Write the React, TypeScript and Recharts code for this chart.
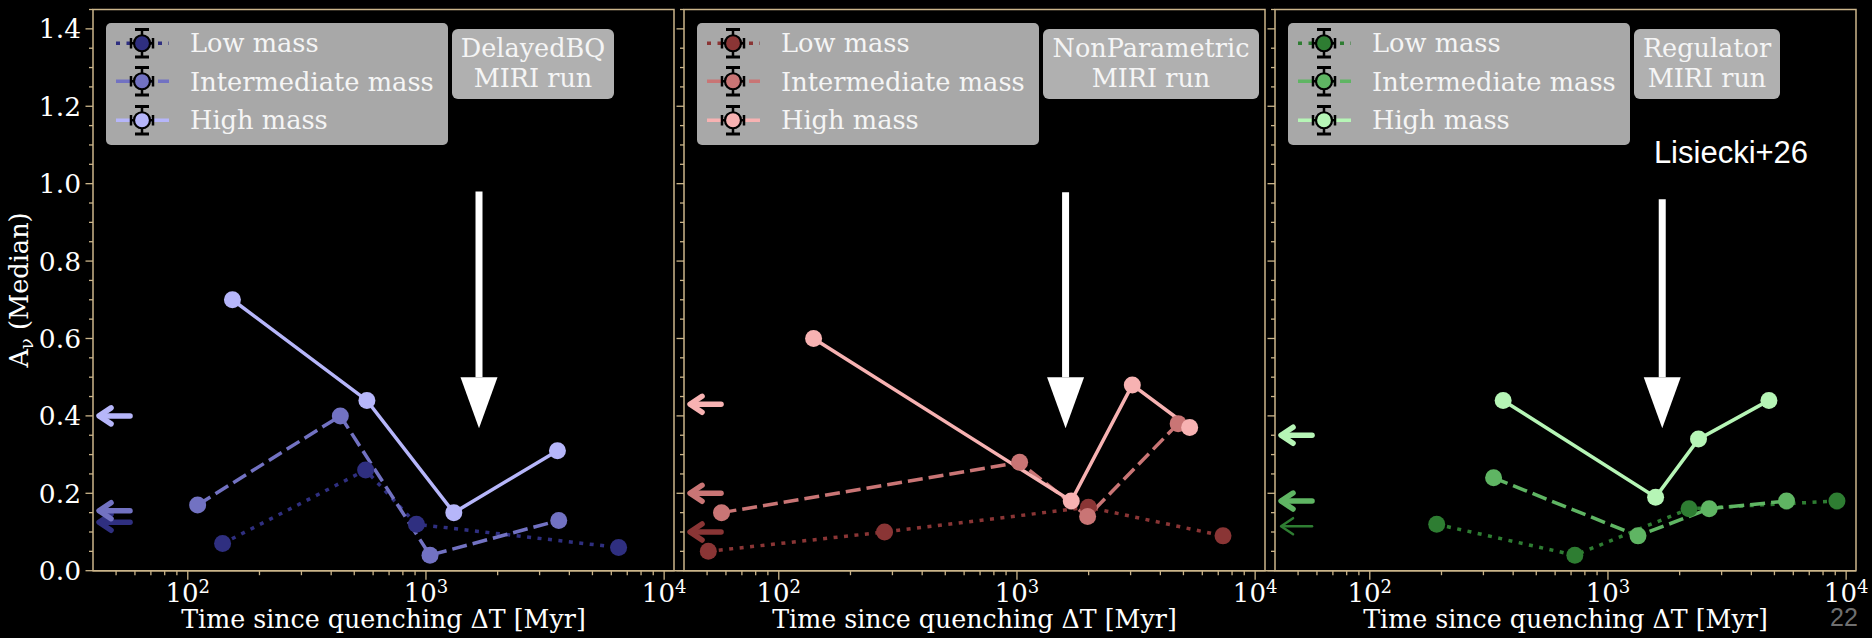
import React from 'react'
import { ComposedChart, Line, XAxis, YAxis, ReferenceArea, ReferenceLine, ReferenceDot } from 'recharts'

// [time since quenching (Myr), median Av]
type Pt = [number, number]

const MASS_LABELS = ['Low mass', 'Intermediate mass', 'High mass']

const BQ_LOW: Pt[] = [[140, 0.07], [558, 0.26], [912, 0.12], [6440, 0.06]]
const BQ_MID: Pt[] = [[110, 0.17], [437, 0.4], [1040, 0.04], [3610, 0.13]]
const BQ_HIGH: Pt[] = [[154, 0.7], [565, 0.44], [1309, 0.15], [3565, 0.31]]
const BQ_REF = [0.125, 0.155, 0.4]

const NP_LOW: Pt[] = [[50.6, 0.05], [278, 0.1], [1995, 0.164], [7330, 0.09]]
const NP_MID: Pt[] = [[57.5, 0.15], [1026, 0.28], [1980, 0.14], [4750, 0.38]]
const NP_HIGH: Pt[] = [[140, 0.6], [1690, 0.18], [3050, 0.48], [5310, 0.37]]
const NP_REF = [0.1, 0.2, 0.43]

const REG_LOW: Pt[] = [[191, 0.12], [726, 0.04], [2190, 0.16], [9150, 0.18]]
const REG_MID: Pt[] = [[331, 0.24], [1337, 0.09], [2660, 0.16], [5620, 0.18]]
const REG_HIGH: Pt[] = [[363, 0.44], [1585, 0.19], [2400, 0.34], [4740, 0.44]]
const REG_REF = [0.115, 0.18, 0.35]

const DECADES = [100, 1000, 10000]
const X_DOMAIN: [number, number] = [40, 11000]
const Y_DOMAIN: [number, number] = [0, 1.45]

const X_TICKS: number[] = []
for (const d of [10, 100, 1000]) {
  for (let m = d === 10 ? 5 : 2; m <= 10; m++) X_TICKS.push(m * d)
}
const Y_TICKS: number[] = []
for (let i = 0; i <= 29; i++) Y_TICKS.push(Math.round(i * 5) / 100)

const SERIF = '"DejaVu Serif", serif'
const SANS = '"Liberation Sans", Arial, sans-serif'
const SPINE = '#cbb58a'
const DASHES = ['4 6.5', '15 6', undefined]

interface PanelCfg {
  left: number
  series: Pt[][]
  ref: number[]
  colors: string[]
  run: string
  boxW: number
  arrowT: number
  arrowTop: number
  yLabels: boolean
  thinLow?: boolean
}

const PANELS: PanelCfg[] = [
  { left: 93, series: [BQ_LOW, BQ_MID, BQ_HIGH], ref: BQ_REF, colors: ['#2f2f80', '#7272c2', '#b6b6fa'], run: 'DelayedBQ', boxW: 162, arrowT: 1670, arrowTop: 0.98, yLabels: true },
  { left: 684, series: [NP_LOW, NP_MID, NP_HIGH], ref: NP_REF, colors: ['#8a3535', '#c97575', '#f7b2b2'], run: 'NonParametric', boxW: 216, arrowT: 1600, arrowTop: 0.978, yLabels: false },
  { left: 1275, series: [REG_LOW, REG_MID, REG_HIGH], ref: REG_REF, colors: ['#2e7d32', '#5fb563', '#b6f5b6'], run: 'Regulator', boxW: 146, arrowT: 1690, arrowTop: 0.96, yLabels: false, thinLow: true },
]

const toRows = (pts: Pt[]) => pts.map(([x, y]) => ({ x, y }))

function XTick(props: any) {
  const { x, y, payload } = props
  const v = payload.value as number
  const exp = Math.round(Math.log10(v))
  const major = Math.abs(Math.log10(v) - exp) < 1e-6
  return (
    <g>
      <line x1={x} x2={x} y1={y} y2={y + (major ? 9 : 4.5)} stroke={SPINE} strokeWidth={1.3} />
      {major && DECADES.includes(v) && (
        <text x={x} y={y + 31.5} textAnchor="middle" fill="#fff" fontSize={26} fontFamily={SERIF}>
          10<tspan dy={-9} fontSize={18}>{exp}</tspan>
        </text>
      )}
    </g>
  )
}

function YTick(props: any) {
  const { x, y, payload, labels } = props
  const v = payload.value as number
  const major = Math.round(v * 100) % 20 === 0
  return (
    <g>
      <line x1={x} x2={x - (major ? 7.5 : 4)} y1={y} y2={y} stroke={SPINE} strokeWidth={1.3} />
      {major && labels && (
        <text x={x - 12} y={y} textAnchor="end" dominantBaseline="central" fill="#fff" fontSize={26.5} fontFamily={SERIF}>
          {v.toFixed(1)}
        </text>
      )}
    </g>
  )
}

function SmallArrow({ cx, cy, color, thin }: { cx: number; cy: number; color: string; thin?: boolean }) {
  const w = thin ? 2.5 : 5.5
  return (
    <g stroke={color} strokeWidth={w} fill="none" strokeLinecap="round" strokeLinejoin="round">
      <line x1={cx + 2} y1={cy} x2={cx + 32} y2={cy} />
      <polyline points={`${cx + 13},${cy - 8} ${cx + 1},${cy} ${cx + 13},${cy + 8}`} />
    </g>
  )
}

function ArrowHead({ cx, cy }: { cx: number; cy: number }) {
  return <polygon points={`${cx - 18.5},${cy - 51} ${cx + 18.5},${cy - 51} ${cx},${cy}`} fill="#fff" />
}

function Panel({ p }: { p: PanelCfg }) {
  return (
    <div style={{ position: 'absolute', left: p.left - 93, top: 0 }}>
      <ComposedChart width={698} height={638} margin={{ top: 9.5, right: 24, left: 33, bottom: 27 }}>
        <XAxis
          dataKey="x"
          type="number"
          scale="log"
          domain={X_DOMAIN}
          allowDataOverflow
          ticks={X_TICKS}
          interval={0}
          tick={(t: any) => <XTick {...t} />}
          tickLine={false}
          axisLine={false}
          tickSize={0}
          tickMargin={0}
          height={40.3}
        />
        <YAxis
          type="number"
          domain={Y_DOMAIN}
          allowDataOverflow
          ticks={Y_TICKS}
          interval={0}
          tick={(t: any) => <YTick {...t} labels={p.yLabels} />}
          tickLine={false}
          axisLine={false}
          tickSize={0}
          tickMargin={0}
          width={60}
        />
        <ReferenceArea x1={X_DOMAIN[0]} x2={X_DOMAIN[1]} y1={Y_DOMAIN[0]} y2={Y_DOMAIN[1]} fill="none" stroke={SPINE} strokeWidth={1.5} ifOverflow="visible" />
        {p.series.map((s, i) => (
          <Line
            key={i}
            data={toRows(s)}
            dataKey="y"
            type="linear"
            stroke={p.colors[i]}
            strokeWidth={3.5}
            strokeDasharray={DASHES[i]}
            dot={{ r: 8.5, fill: p.colors[i], stroke: 'none' }}
            isAnimationActive={false}
          />
        ))}
        <ReferenceLine segment={[{ x: p.arrowT, y: p.arrowTop }, { x: p.arrowT, y: 0.5 }]} stroke="#fff" strokeWidth={7} ifOverflow="visible" />
        <ReferenceDot x={p.arrowT} y={0.368} r={1} ifOverflow="visible" shape={(d: any) => <ArrowHead cx={d.cx} cy={d.cy} />} />
        {p.ref.map((v, i) => (
          <ReferenceDot
            key={'r' + i}
            x={42}
            y={v}
            r={1}
            ifOverflow="visible"
            shape={(d: any) => <SmallArrow cx={d.cx} cy={d.cy} color={p.colors[i]} thin={p.thinLow && i === 0} />}
          />
        ))}
      </ComposedChart>
    </div>
  )
}

function LegendMarker({ color, dash }: { color: string; dash?: string }) {
  return (
    <svg width={72} height={38.5} style={{ display: 'block' }}>
      <line x1={10} x2={63} y1={19.25} y2={19.25} stroke={color} strokeWidth={3.5} strokeDasharray={dash} />
      <g stroke="#000" strokeWidth={2.5}>
        <line x1={36} x2={36} y1={5} y2={33.5} />
        <line x1={29} x2={43} y1={5.5} y2={5.5} strokeWidth={3} />
        <line x1={29} x2={43} y1={33} y2={33} strokeWidth={3} />
        <line x1={24} x2={48} y1={19.25} y2={19.25} />
        <line x1={25} x2={25} y1={14} y2={24.5} />
        <line x1={47} x2={47} y1={14} y2={24.5} />
      </g>
      <circle cx={36} cy={19.25} r={8} fill={color} stroke="#000" strokeWidth={2.2} />
    </svg>
  )
}

function Overlay({ p }: { p: PanelCfg }) {
  const legLeft = p.left + 13
  return (
    <>
      <div
        style={{
          position: 'absolute', left: legLeft, top: 23, width: 342, height: 122, background: 'rgb(168,168,168)',
          borderRadius: 5, boxSizing: 'border-box', paddingTop: 0.75,
        }}
      >
        {MASS_LABELS.map((lab, i) => (
          <div key={lab} style={{ display: 'flex', alignItems: 'center', height: 38.5 }}>
            <LegendMarker color={p.colors[i]} dash={DASHES[i]} />
            <span style={{ marginLeft: 12, fontFamily: SERIF, fontSize: 25.7, color: '#f5f5f5', whiteSpace: 'nowrap' }}>{lab}</span>
          </div>
        ))}
      </div>
      <div
        style={{
          position: 'absolute', left: legLeft + 346, top: 29, width: p.boxW, height: 70, background: 'rgb(176,176,176)',
          borderRadius: 6, boxSizing: 'border-box', paddingTop: 4, textAlign: 'center', fontFamily: SERIF,
          fontSize: 25.5, lineHeight: '30px', color: '#f5f5f5', whiteSpace: 'nowrap',
        }}
      >
        <div>{p.run}</div>
        <div>MIRI run</div>
      </div>
    </>
  )
}

export default function App() {
  return (
    <div style={{ position: 'absolute', left: 0, top: 0, width: 1872, height: 638, background: '#000', overflow: 'hidden' }}>
      {PANELS.map((p) => (
        <Panel key={p.run} p={p} />
      ))}
      {PANELS.map((p) => (
        <Overlay key={p.run} p={p} />
      ))}
      <svg width={1872} height={638} style={{ position: 'absolute', left: 0, top: 0, pointerEvents: 'none' }}>
        <line x1={93} x2={1856} y1={570.7} y2={570.7} stroke={SPINE} strokeWidth={1.5} />
        <text transform="translate(28,290) rotate(-90)" textAnchor="middle" fill="#fff" fontSize={25.6} fontFamily={SERIF}>
          A<tspan dy={5} fontSize={18}>ν</tspan>
          <tspan dy={-5}> (Median)</tspan>
        </text>
        {PANELS.map((p) => (
          <text key={p.run} x={p.left + 290.5} y={628} textAnchor="middle" fill="#fff" fontSize={25.3} fontFamily={SERIF}>
            Time since quenching ΔT [Myr]
          </text>
        ))}
        <text x={1731} y={163} textAnchor="middle" fill="#fff" fontSize={31} fontFamily={SANS}>
          Lisiecki+26
        </text>
        <text x={1844} y={626} textAnchor="middle" fill="#6f6f6f" fontSize={25} fontFamily={SANS}>
          22
        </text>
      </svg>
    </div>
  )
}
